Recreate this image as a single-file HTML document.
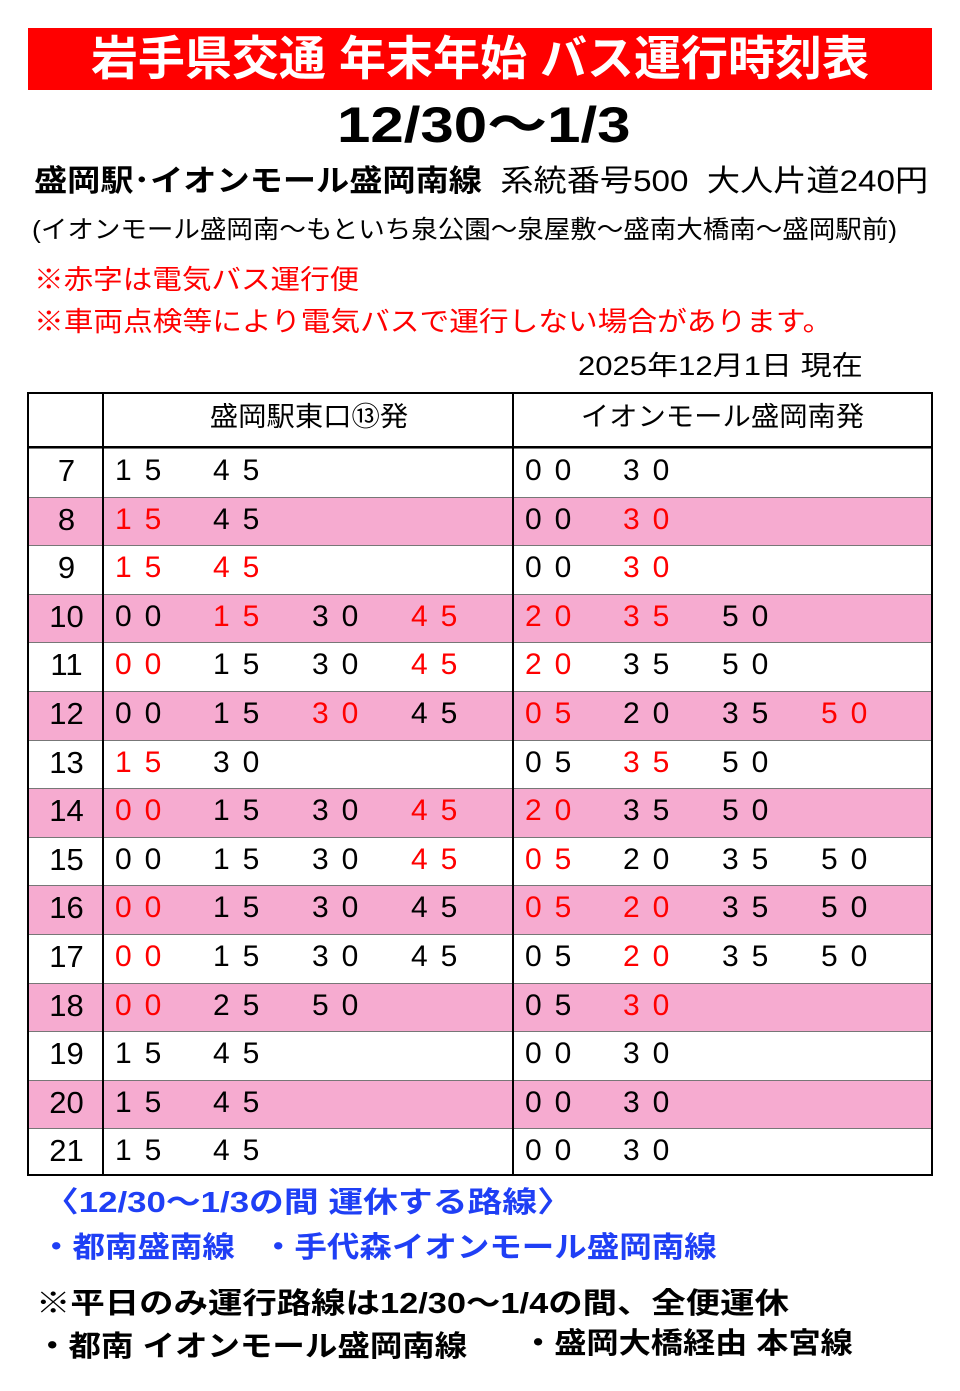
<!DOCTYPE html>
<html><head><meta charset="utf-8"><style>
body{margin:0;width:960px;height:1391px;background:#fff;position:relative;font-family:"Liberation Sans","Noto Sans CJK JP",sans-serif;overflow:hidden}
.a{position:absolute;white-space:nowrap;transform-origin:0 50%}
.title{left:28px;top:28px;width:904px;height:62px;background:#ff0000;color:#fff;font-weight:bold;font-size:47px;line-height:62px;text-align:center}
.tbl{position:absolute;left:27px;top:392px;width:902px;height:780px;border:2px solid #000}
.row{position:absolute;left:0;width:902px;height:48.6px;border-top:1px solid #777;box-sizing:border-box}
.p{background:#f6abd0}
.h{position:absolute;left:0;width:75px;text-align:center;font-size:31px;line-height:44px}
.m{position:absolute;font-size:30px;line-height:44px;letter-spacing:13px}
.r{color:#ff0000}
.vl{position:absolute;top:0;width:2px;height:780px;background:#000}
</style></head><body>
<div class="a title">岩手県交通 年末年始 バス運行時刻表</div>
<div class="a" style="left:337px;top:96px;font-size:50px;font-weight:bold;line-height:58px;transform:scaleX(1.2)">12/30～1/3</div>
<div class="a" style="left:34px;top:162px;font-size:30px;line-height:40px;transform:scaleX(1.106)"><b>盛岡駅･イオンモール盛岡南線</b>&nbsp; 系統番号500&nbsp; 大人片道240円</div>
<div class="a" style="left:32px;top:213px;font-size:25px;line-height:34px;transform:scaleX(1.06)">(イオンモール盛岡南～もといち泉公園～泉屋敷～盛南大橋南～盛岡駅前)</div>
<div class="a" style="left:34px;top:262px;font-size:27px;line-height:36px;color:#ff0000;transform:scaleX(1.095)">※赤字は電気バス運行便</div>
<div class="a" style="left:34px;top:304px;font-size:27px;line-height:36px;color:#ff0000;transform:scaleX(1.1)">※車両点検等により電気バスで運行しない場合があります。</div>
<div class="a" style="left:578px;top:348px;font-size:27px;line-height:36px;transform:scaleX(1.15)">2025年12月1日 現在</div>
<div class="tbl">
<div class="a" style="left:75px;width:410px;top:0;height:52px;line-height:46px;text-align:center;font-size:27px;transform:scaleX(1.05);transform-origin:50% 50%">盛岡駅東口⑬発</div>
<div class="a" style="left:485px;width:417px;top:0;height:52px;line-height:46px;text-align:center;font-size:27px;transform:scaleX(1.05);transform-origin:50% 50%">イオンモール盛岡南発</div>
<div class="a" style="left:0;top:52px;width:902px;height:2px;background:#000"></div>
<div class="row" style="top:54px"><div class="h">7</div><div class="m" style="left:86px">15</div><div class="m" style="left:184px">45</div><div class="m" style="left:496px">00</div><div class="m" style="left:594px">30</div></div>
<div class="row p" style="top:102.6px"><div class="h">8</div><div class="m r" style="left:86px">15</div><div class="m" style="left:184px">45</div><div class="m" style="left:496px">00</div><div class="m r" style="left:594px">30</div></div>
<div class="row" style="top:151.2px"><div class="h">9</div><div class="m r" style="left:86px">15</div><div class="m r" style="left:184px">45</div><div class="m" style="left:496px">00</div><div class="m r" style="left:594px">30</div></div>
<div class="row p" style="top:199.8px"><div class="h">10</div><div class="m" style="left:86px">00</div><div class="m r" style="left:184px">15</div><div class="m" style="left:283px">30</div><div class="m r" style="left:382px">45</div><div class="m r" style="left:496px">20</div><div class="m r" style="left:594px">35</div><div class="m" style="left:693px">50</div></div>
<div class="row" style="top:248.4px"><div class="h">11</div><div class="m r" style="left:86px">00</div><div class="m" style="left:184px">15</div><div class="m" style="left:283px">30</div><div class="m r" style="left:382px">45</div><div class="m r" style="left:496px">20</div><div class="m" style="left:594px">35</div><div class="m" style="left:693px">50</div></div>
<div class="row p" style="top:297px"><div class="h">12</div><div class="m" style="left:86px">00</div><div class="m" style="left:184px">15</div><div class="m r" style="left:283px">30</div><div class="m" style="left:382px">45</div><div class="m r" style="left:496px">05</div><div class="m" style="left:594px">20</div><div class="m" style="left:693px">35</div><div class="m r" style="left:792px">50</div></div>
<div class="row" style="top:345.6px"><div class="h">13</div><div class="m r" style="left:86px">15</div><div class="m" style="left:184px">30</div><div class="m" style="left:496px">05</div><div class="m r" style="left:594px">35</div><div class="m" style="left:693px">50</div></div>
<div class="row p" style="top:394.2px"><div class="h">14</div><div class="m r" style="left:86px">00</div><div class="m" style="left:184px">15</div><div class="m" style="left:283px">30</div><div class="m r" style="left:382px">45</div><div class="m r" style="left:496px">20</div><div class="m" style="left:594px">35</div><div class="m" style="left:693px">50</div></div>
<div class="row" style="top:442.8px"><div class="h">15</div><div class="m" style="left:86px">00</div><div class="m" style="left:184px">15</div><div class="m" style="left:283px">30</div><div class="m r" style="left:382px">45</div><div class="m r" style="left:496px">05</div><div class="m" style="left:594px">20</div><div class="m" style="left:693px">35</div><div class="m" style="left:792px">50</div></div>
<div class="row p" style="top:491.4px"><div class="h">16</div><div class="m r" style="left:86px">00</div><div class="m" style="left:184px">15</div><div class="m" style="left:283px">30</div><div class="m" style="left:382px">45</div><div class="m r" style="left:496px">05</div><div class="m r" style="left:594px">20</div><div class="m" style="left:693px">35</div><div class="m" style="left:792px">50</div></div>
<div class="row" style="top:540px"><div class="h">17</div><div class="m r" style="left:86px">00</div><div class="m" style="left:184px">15</div><div class="m" style="left:283px">30</div><div class="m" style="left:382px">45</div><div class="m" style="left:496px">05</div><div class="m r" style="left:594px">20</div><div class="m" style="left:693px">35</div><div class="m" style="left:792px">50</div></div>
<div class="row p" style="top:588.6px"><div class="h">18</div><div class="m r" style="left:86px">00</div><div class="m" style="left:184px">25</div><div class="m" style="left:283px">50</div><div class="m" style="left:496px">05</div><div class="m r" style="left:594px">30</div></div>
<div class="row" style="top:637.2px"><div class="h">19</div><div class="m" style="left:86px">15</div><div class="m" style="left:184px">45</div><div class="m" style="left:496px">00</div><div class="m" style="left:594px">30</div></div>
<div class="row p" style="top:685.8px"><div class="h">20</div><div class="m" style="left:86px">15</div><div class="m" style="left:184px">45</div><div class="m" style="left:496px">00</div><div class="m" style="left:594px">30</div></div>
<div class="row" style="top:734.4px"><div class="h">21</div><div class="m" style="left:86px">15</div><div class="m" style="left:184px">45</div><div class="m" style="left:496px">00</div><div class="m" style="left:594px">30</div></div>
<div class="vl" style="left:73px"></div>
<div class="vl" style="left:483px"></div>
</div>
<div class="a" style="left:44px;top:1183px;font-size:29px;font-weight:bold;color:#1f3ff5;line-height:40px;transform:scaleX(1.2)">〈12/30～1/3の間 運休する路線〉</div>
<div class="a" style="left:40px;top:1228px;font-size:29px;font-weight:bold;color:#1f3ff5;line-height:40px;transform:scaleX(1.12)">・都南盛南線&nbsp;&nbsp; ・手代森イオンモール盛岡南線</div>
<div class="a" style="left:36px;top:1284px;font-size:29px;font-weight:bold;line-height:40px;transform:scaleX(1.186)">※平日のみ運行路線は12/30～1/4の間、全便運休</div>
<div class="a" style="left:36px;top:1327px;font-size:29px;font-weight:bold;line-height:40px;transform:scaleX(1.12)">・都南 イオンモール盛岡南線</div>
<div class="a" style="left:522px;top:1324px;font-size:29px;font-weight:bold;line-height:40px;transform:scaleX(1.11)">・盛岡大橋経由 本宮線</div>
</body></html>
